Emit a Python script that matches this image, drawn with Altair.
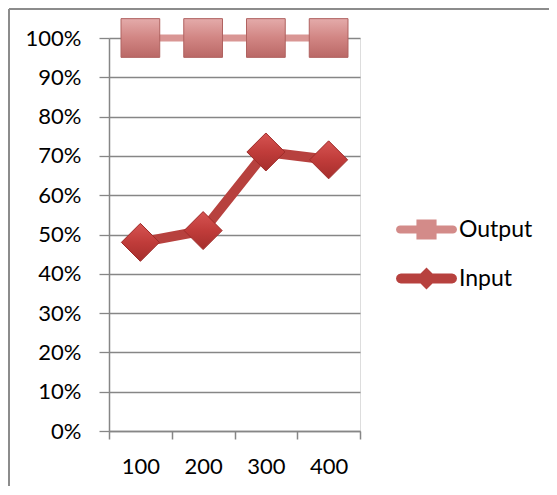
import math
import altair as alt
import pandas as pd

categories = ["100", "200", "300", "400"]
series_names = ["Output", "Input"]
output_vals = [1.00, 1.00, 1.00, 1.00]
input_vals = [0.48, 0.51, 0.71, 0.69]

df = pd.DataFrame({
    "cat": categories * 2,
    "series": [series_names[0]] * 4 + [series_names[1]] * 4,
    "value": output_vals + input_vals,
})

FONT = "Lato"
GRID = "#868686"

x_enc = alt.X(
    "cat:N",
    sort=categories,
    scale=alt.Scale(type="band", paddingInner=0, paddingOuter=0),
    axis=alt.Axis(
        title=None, tickBand="extent", grid=False, labelAngle=0,
        domainColor=GRID, domainWidth=1.5, tickColor=GRID, tickWidth=1.5,
        tickSize=8, labelPadding=17, labelFont=FONT, labelFontSize=22,
        labelColor="black",
    ),
)
y_enc = alt.Y(
    "value:Q",
    scale=alt.Scale(domain=[0, 1], nice=False),
    axis=alt.Axis(
        title=None, values=[i / 10 for i in range(11)], format=".0%",
        grid=True, gridColor=GRID, gridWidth=1.3,
        domainColor=GRID, domainWidth=1.5, tickColor=GRID, tickWidth=1.3,
        tickSize=10, labelPadding=18, labelFont=FONT, labelFontSize=22,
        labelColor="black",
    ),
)

base = alt.Chart(df).encode(x=x_enc, y=y_enc)

out_line = base.transform_filter(alt.datum.series == "Output").mark_line(
    color="#D99694", strokeWidth=7
)
out_pts = base.transform_filter(alt.datum.series == "Output").mark_point(
    shape="square", size=1500, filled=True, opacity=1,
    fill={"gradient": "linear", "x1": 0, "y1": 0, "x2": 0, "y2": 1,
          "stops": [{"offset": 0, "color": "#E4ABAA"},
                    {"offset": 0.5, "color": "#D18583"},
                    {"offset": 1, "color": "#BA6866"}]},
    stroke="#B06260", strokeWidth=1,
)
in_line = base.transform_filter(alt.datum.series == "Input").mark_line(
    color="#B7413E", strokeWidth=10
)
in_pts = base.transform_filter(alt.datum.series == "Input").mark_point(
    shape="diamond", size=1444, filled=True, opacity=1,
    fill={"gradient": "linear", "x1": 0, "y1": 0, "x2": 0, "y2": 1,
          "stops": [{"offset": 0, "color": "#D65452"},
                    {"offset": 0.5, "color": "#C03C3A"},
                    {"offset": 1, "color": "#A52E2C"}]},
    stroke="#9E2B29", strokeWidth=1,
)


def rounded_bar(h, steps=6):
    pts = []
    c = 1 - h
    for i in range(steps + 1):
        a = -math.pi / 2 + math.pi * i / steps
        pts.append((c + h * math.cos(a), h * math.sin(a)))
    for i in range(steps + 1):
        a = math.pi / 2 + math.pi * i / steps
        pts.append((-c + h * math.cos(a), h * math.sin(a)))
    return "M" + " L".join(f"{x:.3f},{y:.3f}" for x, y in pts) + " Z"


out_sym = rounded_bar(0.13) + " M-0.33,-0.33 L0.33,-0.33 L0.33,0.33 L-0.33,0.33 Z"
in_sym = rounded_bar(0.16) + " M-0.36,0 L0,-0.36 L0.36,0 L0,0.36 Z"

legend_props = dict(
    title=None, orient="none", legendX=287, legendY=161,
    symbolSize=3721, symbolStrokeWidth=0, labelFont=FONT,
    labelFontSize=23, labelColor="black", labelOffset=2,
    rowPadding=6, padding=0,
)

legend_layer = base.transform_filter("false").mark_point(
    filled=True, opacity=1, size=3721
).encode(
    color=alt.Color(
        "series:N",
        scale=alt.Scale(domain=series_names, range=["#D38B89", "#B7413E"]),
        legend=alt.Legend(**legend_props),
    ),
    shape=alt.Shape(
        "series:N",
        scale=alt.Scale(domain=series_names, range=[out_sym, in_sym]),
        legend=alt.Legend(**legend_props),
    ),
)

border_data = alt.Data(values=[{"k": 1}])
left_border = alt.Chart(border_data).mark_rule(color="#8C8C8C", strokeWidth=2).encode(
    x=alt.value(-100), y=alt.value(-29), y2=alt.value(455)
)
top_border = alt.Chart(border_data).mark_rule(color="#8C8C8C", strokeWidth=2).encode(
    x=alt.value(-100), x2=alt.value(440), y=alt.value(-29)
)

chart = alt.layer(
    left_border, top_border, out_line, in_line, out_pts, in_pts, legend_layer
).properties(
    width=251, height=393,
    autosize=alt.AutoSizeParams(type="none"),
    padding={"left": 101, "top": 30, "right": 189, "bottom": 55},
).configure_view(strokeWidth=0).configure(background="white")

chart.save("out.html", embed_options={"renderer": "svg", "actions": False})
